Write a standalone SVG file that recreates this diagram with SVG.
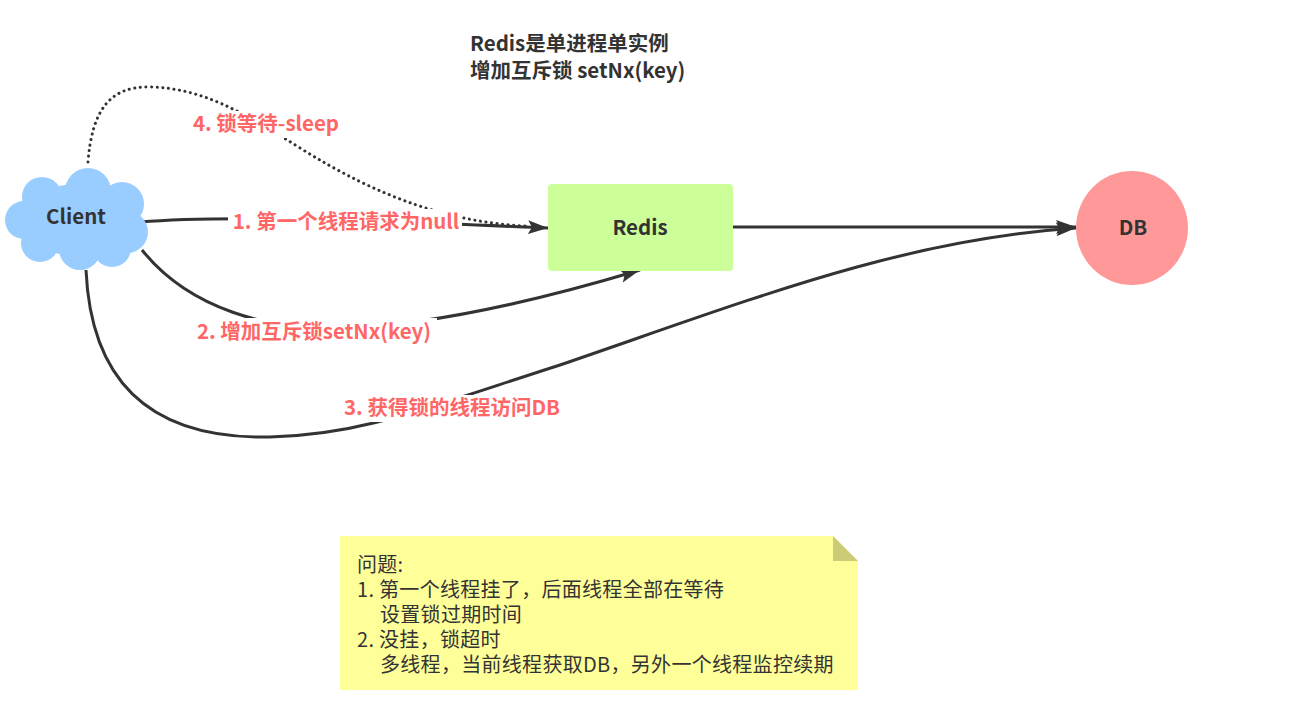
<svg xmlns="http://www.w3.org/2000/svg" width="1308" height="714" viewBox="0 0 1308 714">
<style>
.lbl{font-family:"Noto Sans CJK SC","Liberation Sans",sans-serif;font-weight:bold;font-size:20.5px;fill:#FF6666;text-anchor:middle}
.node{font-family:"Noto Sans CJK SC","Liberation Sans",sans-serif;font-weight:bold;font-size:20.5px;fill:#333333;text-anchor:middle}
.title{font-family:"Noto Sans CJK SC","Liberation Sans",sans-serif;font-weight:bold;font-size:20.5px;fill:#333333}
.note{font-family:"Noto Sans CJK SC","Liberation Sans",sans-serif;font-size:20px;letter-spacing:0.3px;fill:#333333}
.edge{fill:none;stroke:#333333;stroke-width:3}
.dot{fill:none;stroke:#333333;stroke-width:3;stroke-dasharray:0.1 5.5;stroke-linecap:round}
.bg{fill:#FFFFFF}
</style>
<defs>
<marker id="arr" markerUnits="userSpaceOnUse" markerWidth="22" markerHeight="16" refX="20" refY="7" orient="auto">
<path d="M0,0 L20,7 L0,14 L4,7 Z" fill="#333333"/>
</marker>
</defs>
<rect width="1308" height="714" fill="#FFFFFF"/>
<g id="title">
<text class="title" x="470" y="51">Redis是单进程单实例</text>
<text class="title" x="470" y="78">增加互斥锁 setNx(key)</text>
</g>
<g id="connectors">
<path class="dot" d="M88,162 C92,110 110,86 150,87 C200,88 240,110 300,148 C380,198 450,222 525,226"/>
<path class="edge" d="M140,222 C230,214 400,222 548,228" marker-end="url(#arr)"/>
<path class="edge" d="M142,250 C190,310 270,330 340,328 C430,326 540,300 640,270" marker-end="url(#arr)"/>
<path class="edge" d="M86,270 C90,360 130,440 270,437 C360,435 420,410 560,365 C750,300 900,240 1076,228" marker-end="url(#arr)"/>
<path class="edge" d="M733,227 L1076,227" marker-end="url(#arr)"/>
<rect class="bg" x="188" y="111" width="157" height="27"/>
<text class="lbl" x="266" y="131">4. 锁等待-sleep</text>
<rect class="bg" x="228" y="209" width="234" height="27"/>
<text class="lbl" x="346" y="229">1. 第一个线程请求为null</text>
<rect class="bg" x="191" y="318" width="246" height="27"/>
<text class="lbl" x="314" y="339">2. 增加互斥锁setNx(key)</text>
<rect class="bg" x="339" y="395" width="224" height="27"/>
<text class="lbl" x="452" y="415">3. 获得锁的线程访问DB</text>
</g>
<g id="client">
<g fill="#99CCFF">
<circle cx="42" cy="197" r="20"/>
<circle cx="88" cy="191" r="23"/>
<circle cx="122" cy="204" r="22"/>
<circle cx="127" cy="232" r="21"/>
<circle cx="112" cy="248" r="19"/>
<circle cx="80" cy="249" r="21"/>
<circle cx="40" cy="243" r="19"/>
<circle cx="24" cy="220" r="19"/>
<ellipse cx="76" cy="220" rx="52" ry="36"/>
</g>
<text class="node" x="76" y="224">Client</text>
</g>
<g id="redis">
<rect x="548" y="184" width="185" height="87" rx="4" fill="#CCFF99"/>
<text class="node" x="640" y="235">Redis</text>
</g>
<g id="db">
<ellipse cx="1132" cy="228" rx="56" ry="57" fill="#FF9999"/>
<text class="node" x="1133" y="235">DB</text>
</g>
<g id="note">
<path d="M340,536 L833,536 L858,561 L858,690 L340,690 Z" fill="#FFFF99"/>
<path d="M833,536 L858,561 L833,561 Z" fill="#CCCC77"/>
<text class="note" x="357" y="572">问题:</text>
<text class="note" x="357" y="597">1. 第一个线程挂了，后面线程全部在等待</text>
<text class="note" x="380" y="622">设置锁过期时间</text>
<text class="note" x="357" y="647">2. 没挂，锁超时</text>
<text class="note" x="380" y="672">多线程，当前线程获取DB，另外一个线程监控续期</text>
</g>
</svg>
